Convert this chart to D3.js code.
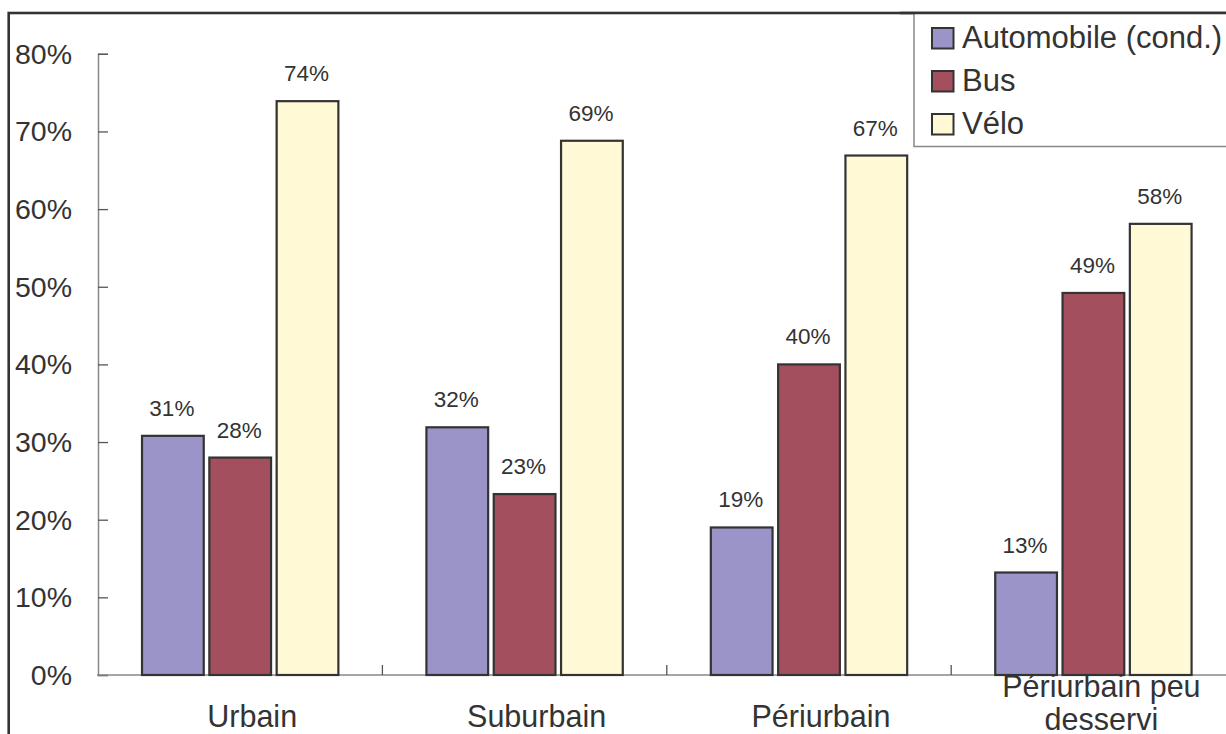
<!DOCTYPE html>
<html><head><meta charset="utf-8">
<script src="https://cdn.jsdelivr.net/npm/d3@7"></script>
<style>
html,body{margin:0;padding:0;background:#fff;}
svg{display:block;font-family:"Liberation Sans",Arial,Helvetica,sans-serif;}
</style></head>
<body>
<svg id="chart" width="1226" height="734"></svg>
<script>
const categories = ["Urbain", "Suburbain", "Périurbain", "Périurbain peu desservi"];
const seriesNames = ["Automobile (cond.)", "Bus", "Vélo"];
const automobile = [30.8, 31.9, 19.0, 13.2];
const bus = [28.0, 23.3, 40.0, 49.2];
const velo = [73.9, 68.8, 66.9, 58.1];
const yTicks = [0, 10, 20, 30, 40, 50, 60, 70, 80];
const colors = ["#9a94c8", "#a44f5e", "#fff9d6"];

const seriesValues = [automobile, bus, velo];
const svg = d3.select("#chart");
const textColor = "#333";

// outer frame
svg.append("rect").attr("x", 8.7).attr("y", 13).attr("width", 1260).attr("height", 760)
  .attr("fill", "none").attr("stroke", "#333").attr("stroke-width", 2.6);

const plotLeft = 98, plotBottom = 675, plotTop = 53.8;
const bandW = 284.4;
const x = d3.scaleBand().domain(categories).range([plotLeft, plotLeft + bandW * categories.length]).paddingInner(0).paddingOuter(0);
const xs = d3.scaleBand().domain(seriesNames).range([0, x.bandwidth()]).paddingInner(0.083).paddingOuter(0.654);
const y = d3.scaleLinear().domain([0, 80]).range([plotBottom, plotTop]);

// y axis
const yAxis = d3.axisRight(y).tickValues(yTicks).tickSize(10).tickFormat("");
const gy = svg.append("g").attr("transform", `translate(${plotLeft},0)`).call(yAxis);
gy.select(".domain").attr("stroke", "#888").attr("stroke-width", 1.5);
gy.selectAll(".tick line").attr("stroke", "#555").attr("stroke-width", 1.3);

svg.append("g").selectAll("text").data(yTicks).join("text")
  .attr("x", 72).attr("y", d => y(d) + 10)
  .attr("text-anchor", "end").attr("font-size", 28.5).attr("fill", textColor)
  .text(d => d + "%");

// x axis line
svg.append("line").attr("x1", plotLeft - 1).attr("x2", 1226).attr("y1", plotBottom).attr("y2", plotBottom)
  .attr("stroke", "#888").attr("stroke-width", 1.5);
// category boundary ticks
svg.append("g").selectAll("line").data(categories.slice(1)).join("line")
  .attr("x1", d => x(d)).attr("x2", d => x(d)).attr("y1", plotBottom).attr("y2", plotBottom - 10)
  .attr("stroke", "#555").attr("stroke-width", 1.3);

// bars
const data = [];
categories.forEach((c, i) => seriesNames.forEach((s, j) => data.push({c, s, j, v: seriesValues[j][i]})));

const bars = svg.append("g");
bars.selectAll("rect").data(data).join("rect")
  .attr("x", d => x(d.c) + xs(d.s))
  .attr("y", d => y(d.v))
  .attr("width", xs.bandwidth())
  .attr("height", d => y(0) - y(d.v))
  .attr("fill", d => colors[d.j])
  .attr("stroke", "#333").attr("stroke-width", 2.2);

svg.append("g").selectAll("text").data(data).join("text")
  .attr("x", d => x(d.c) + xs(d.s) + xs.bandwidth() / 2 - 1)
  .attr("y", d => y(d.v) - 20)
  .attr("text-anchor", "middle").attr("font-size", 22.5).attr("fill", textColor)
  .text(d => Math.round(d.v) + "%");

// category labels
const catLines = {"Périurbain peu desservi": ["Périurbain peu", "desservi"]};
const cl = svg.append("g");
categories.forEach(c => {
  const lines = catLines[c] || [c];
  const cx = x(c) + x.bandwidth() / 2 + (lines.length > 1 ? 8 : 12);
  const baseY = lines.length > 1 ? 697 : 727;
  lines.forEach((ln, k) => {
    cl.append("text").attr("x", cx).attr("y", baseY + k * 33)
      .attr("text-anchor", "middle").attr("font-size", 30.5).attr("fill", textColor).text(ln);
  });
});

// legend
const lg = svg.append("g");
lg.append("rect").attr("x", 914).attr("y", 13).attr("width", 400).attr("height", 133.5)
  .attr("fill", "#fff").attr("stroke", "#888").attr("stroke-width", 1.5);
svg.append("line").attr("x1", 900).attr("x2", 1226).attr("y1", 13).attr("y2", 13)
  .attr("stroke", "#333").attr("stroke-width", 2.6);
seriesNames.forEach((s, j) => {
  const by = 48 + j * 43;
  lg.append("rect").attr("x", 932).attr("y", by - 20).attr("width", 21.5).attr("height", 20.5)
    .attr("fill", colors[j]).attr("stroke", "#333").attr("stroke-width", 2);
  lg.append("text").attr("x", 962).attr("y", by).attr("font-size", 31).attr("fill", textColor).text(s);
});
</script>
</body></html>
